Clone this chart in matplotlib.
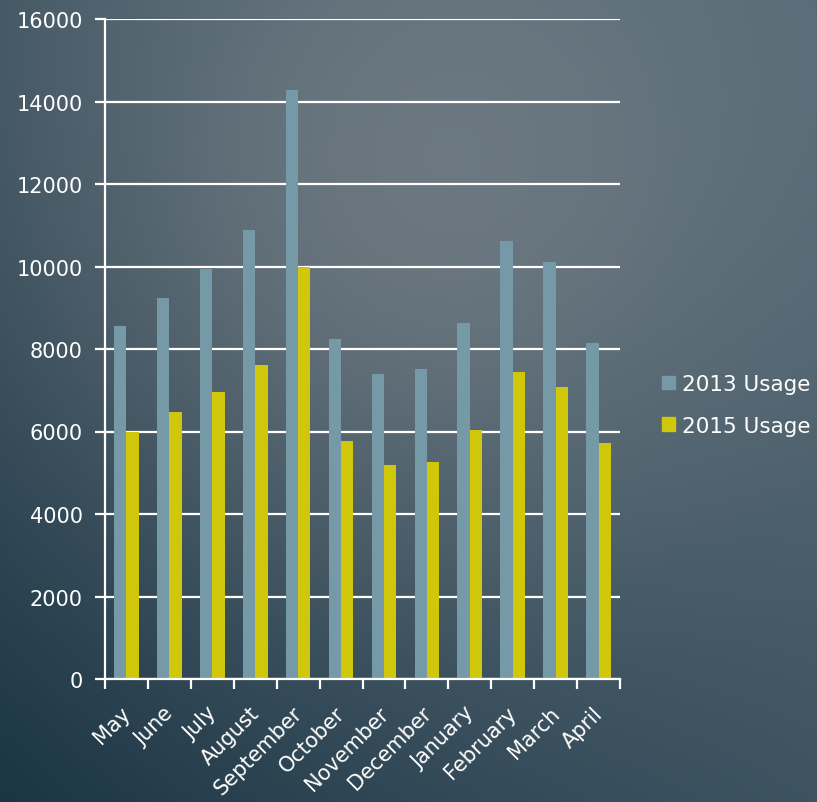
import numpy as np
import matplotlib
matplotlib.use("Agg")
import matplotlib.pyplot as plt
import matplotlib.transforms as mtransforms
from matplotlib.patches import Patch

months = ["May", "June", "July", "August", "September", "October", "November",
          "December", "January", "February", "March", "April"]
usage_2013 = [8550, 9240, 9950, 10880, 14280, 8240, 7390, 7510, 8630, 10630, 10120, 8150]
usage_2015 = [6000, 6470, 6960, 7610, 10000, 5760, 5180, 5250, 6040, 7440, 7090, 5710]
series_names = ["2013 Usage", "2015 Usage"]
yticks = [0, 2000, 4000, 6000, 8000, 10000, 12000, 14000, 16000]

c2013 = "#7599a6"
c2015 = "#d0c70a"
font = "DejaVu Sans"

W, H = 817, 803
fig = plt.figure(figsize=(W / 100, H / 100), dpi=100)

# background gradient
bg = fig.add_axes([0, 0, 1, 1], zorder=-10)
yy, xx = np.mgrid[0:H, 0:W].astype(float)
s = ((W - xx) / W + yy / H) / 2.0
s = np.clip(s, 0, 1) ** 1.3
top = np.array([83, 103, 115]) / 255.0
bot = np.array([26, 52, 68]) / 255.0
img = top[None, None, :] * (1 - s[..., None]) + bot[None, None, :] * s[..., None]
d2 = (xx - 380) ** 2 + (yy - 230) ** 2
g = np.exp(-d2 / (2 * 270.0 ** 2))
spot = np.array([40, 31, 26]) / 255.0
img = np.clip(img + g[..., None] * spot[None, None, :], 0, 1)
bg.imshow(img, aspect="auto", extent=[0, 1, 0, 1], origin="upper")
bg.axis("off")

ax = fig.add_axes([105 / W, 1 - 680 / H, (620 - 105) / W, (680 - 20) / H])
ax.patch.set_alpha(0)

x = np.arange(len(months))
bw = 0.287
ax.bar(x - bw / 2, usage_2013, width=bw, color=c2013, zorder=3)
ax.bar(x + bw / 2, usage_2015, width=bw, color=c2015, zorder=3)

ax.set_xlim(-0.5, len(months) - 0.5)
ax.set_ylim(0, 16000)
ax.set_yticks(yticks)
ax.set_yticklabels([str(v) for v in yticks], fontfamily=font, fontsize=15, color="white")
ax.yaxis.grid(True, color="white", linewidth=1.6, zorder=1)
ax.set_axisbelow(True)

ax.set_xticks(x)
ax.set_xticklabels(months, rotation=45, ha="right", rotation_mode="anchor",
                   fontfamily=font, fontsize=15, color="white")
ax.set_xticks(np.arange(-0.5, len(months), 1.0), minor=True)
ax.tick_params(axis="x", which="major", length=0, pad=17)
ax.tick_params(axis="x", which="minor", length=7, width=1.6, color="white", direction="out")
ax.tick_params(axis="y", length=7, width=1.6, color="white", direction="out", pad=9)

offset = mtransforms.ScaledTranslation(-6 / 100, 0, fig.dpi_scale_trans)
for lbl in ax.get_xticklabels():
    lbl.set_transform(lbl.get_transform() + offset)

for sp in ["top", "right"]:
    ax.spines[sp].set_visible(False)
for sp in ["left", "bottom"]:
    ax.spines[sp].set_color("white")
    ax.spines[sp].set_linewidth(1.6)
    ax.spines[sp].set_zorder(4)

handles = [Patch(color=c2013), Patch(color=c2015)]
leg = fig.legend(handles, series_names, loc="center left",
                 bbox_to_anchor=(653 / W, 1 - 406 / H), frameon=False,
                 prop={"family": font, "size": 15.5}, labelcolor="white",
                 handlelength=0.6, handleheight=0.6, handletextpad=0.33,
                 labelspacing=1.0, borderaxespad=0)

fig.savefig("out.png", dpi=100)
